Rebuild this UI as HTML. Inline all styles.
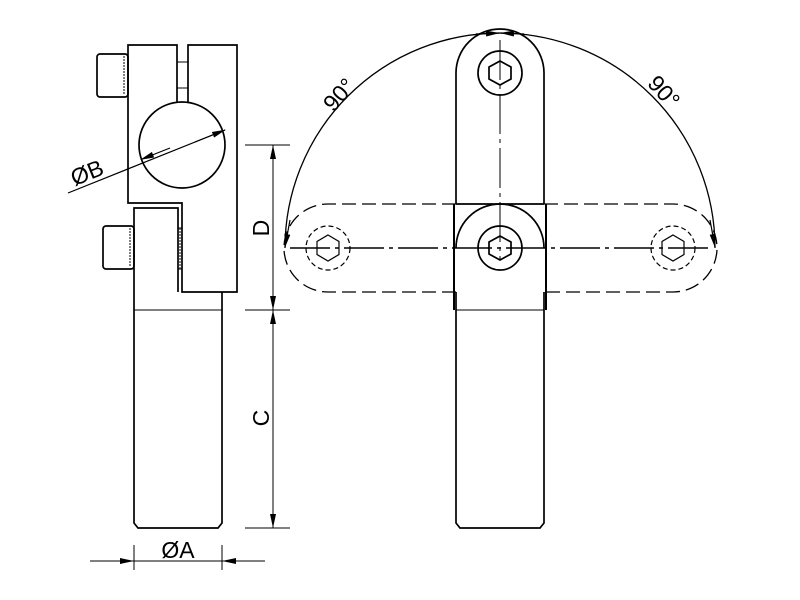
<!DOCTYPE html>
<html><head><style>body{margin:0;background:#fff}svg{display:block}text{font-family:"Liberation Sans",sans-serif;font-size:23px}</style></head><body>
<svg width="800" height="600" viewBox="0 0 800 600" xmlns="http://www.w3.org/2000/svg">
<defs>
<marker id="ar" markerWidth="14" markerHeight="8" refX="13" refY="4" orient="auto" markerUnits="userSpaceOnUse"><path d="M0,1 L14,4 L0,7 Z" fill="#000"/></marker>
</defs>
<g fill="none" stroke="#000" stroke-width="1.7">
<path d="M177,102 V45 H128 V203 H182 V292 H237 V45 H188 V102"/>
<line x1="177" y1="62" x2="188" y2="62" stroke-width="1"/>
<line x1="177" y1="88" x2="188" y2="88" stroke-width="1"/>
<circle cx="182" cy="145" r="43"/>
<rect x="97" y="54" width="31" height="43" rx="3"/>
<line x1="124" y1="56" x2="124" y2="95" stroke-dasharray="2,1" stroke-width="1"/>
<path d="M134,310 V208 H178 V292"/>
<rect x="103" y="226" width="31" height="43" rx="3"/>
<line x1="130" y1="228" x2="130" y2="267" stroke-dasharray="2,1" stroke-width="1"/>
<line x1="178" y1="228" x2="182" y2="228" stroke-width="1"/>
<line x1="178" y1="269" x2="182" y2="269" stroke-width="1"/>
<line x1="180" y1="228" x2="180" y2="269" stroke-dasharray="2,1" stroke-width="1"/>
<path d="M222,292 V523 L218,528 H138 L134,523 V310"/>
<line x1="134" y1="310" x2="222" y2="310" stroke-width="1"/>
<line x1="68" y1="193" x2="225" y2="130" stroke-width="1.2"/>
<line x1="170" y1="148" x2="141" y2="159.5" stroke-width="1.2" marker-end="url(#ar)"/>
<line x1="195" y1="142" x2="225" y2="130" stroke-width="1.2" marker-end="url(#ar)"/>
<g stroke-width="1">
<line x1="245" y1="145" x2="290" y2="145"/>
<line x1="245" y1="310" x2="290" y2="310"/>
<line x1="245" y1="528" x2="290" y2="528"/>
<line x1="273" y1="145" x2="273" y2="528"/>
</g>
<line x1="273" y1="170" x2="273" y2="146" stroke-width="1" marker-end="url(#ar)"/>
<line x1="273" y1="285" x2="273" y2="309" stroke-width="1" marker-end="url(#ar)"/>
<line x1="273" y1="335" x2="273" y2="311" stroke-width="1" marker-end="url(#ar)"/>
<line x1="273" y1="503" x2="273" y2="527" stroke-width="1" marker-end="url(#ar)"/>
<g stroke-width="1">
<line x1="134" y1="545" x2="134" y2="570"/>
<line x1="222" y1="545" x2="222" y2="570"/>
<line x1="90" y1="561" x2="265" y2="561"/>
</g>
<line x1="110" y1="561" x2="133" y2="561" stroke-width="1" marker-end="url(#ar)"/>
<line x1="246" y1="561" x2="223" y2="561" stroke-width="1" marker-end="url(#ar)"/>

<path d="M456,204 H328 A44,44 0 0 0 328,292 H456 M544,204 H673 A44,44 0 0 1 673,292 H544" stroke-dasharray="14,6" stroke-width="1.3"/>
<circle cx="328" cy="248" r="22" stroke-dasharray="5,3" stroke-width="1.2"/>
<circle cx="673" cy="248" r="22" stroke-dasharray="5,3" stroke-width="1.2"/>
<polygon points="328,235 339,241.5 339,254.5 328,261 317,254.5 317,241.5" stroke-width="1.2"/>
<polygon points="673,235 684,241.5 684,254.5 673,261 662,254.5 662,241.5" stroke-width="1.2"/>
<path d="M456,204 V73 A44,44 0 0 1 544,73 V204"/>
<line x1="456" y1="204" x2="544" y2="204"/>
<circle cx="500" cy="73" r="22"/>
<polygon points="500,61 511,67 511,79 500,85 489,79 489,67"/>
<path d="M456,248 A44,44 0 0 1 544,248"/>
<path d="M454,204 V310 M546,204 V310" stroke-width="2"/>
<circle cx="500" cy="248" r="22"/>
<polygon points="500,236 511,242 511,254 500,260 489,254 489,242"/>
<path d="M456,292 V523 L460,528 H540 L544,523 V292"/>
<line x1="456" y1="310" x2="544" y2="310" stroke-width="1"/>
<line x1="290" y1="248" x2="712" y2="248" stroke-dasharray="40,5,4,5" stroke-width="1.5"/>
<line x1="500" y1="40" x2="500" y2="260" stroke-dasharray="40,5,4,5" stroke-width="1"/>
<path d="M285,248 A215,215 0 0 1 715,248" stroke-width="1.3"/>
<path d="M290,220 L285,247" stroke-width="1.2" marker-end="url(#ar)"/>
<path d="M710,220 L715,247" stroke-width="1.2" marker-end="url(#ar)"/>
<path d="M476,34 L499,33" stroke-width="1.2" marker-end="url(#ar)"/>
<path d="M524,34 L501,33" stroke-width="1.2" marker-end="url(#ar)"/>
</g>
<g fill="#000">
<text x="90" y="180" transform="rotate(-22 90 180)" text-anchor="middle">ØB</text>
<text x="178" y="558" text-anchor="middle">ØA</text>
<text x="269" y="228" transform="rotate(-90 269 228)" text-anchor="middle">D</text>
<text x="269" y="418" transform="rotate(-90 269 418)" text-anchor="middle">C</text>
<text x="345" y="100" transform="rotate(-48 345 100)" text-anchor="middle">90°</text>
<text x="658" y="97" transform="rotate(48 658 97)" text-anchor="middle">90°</text>
</g>
</svg>
</body></html>
